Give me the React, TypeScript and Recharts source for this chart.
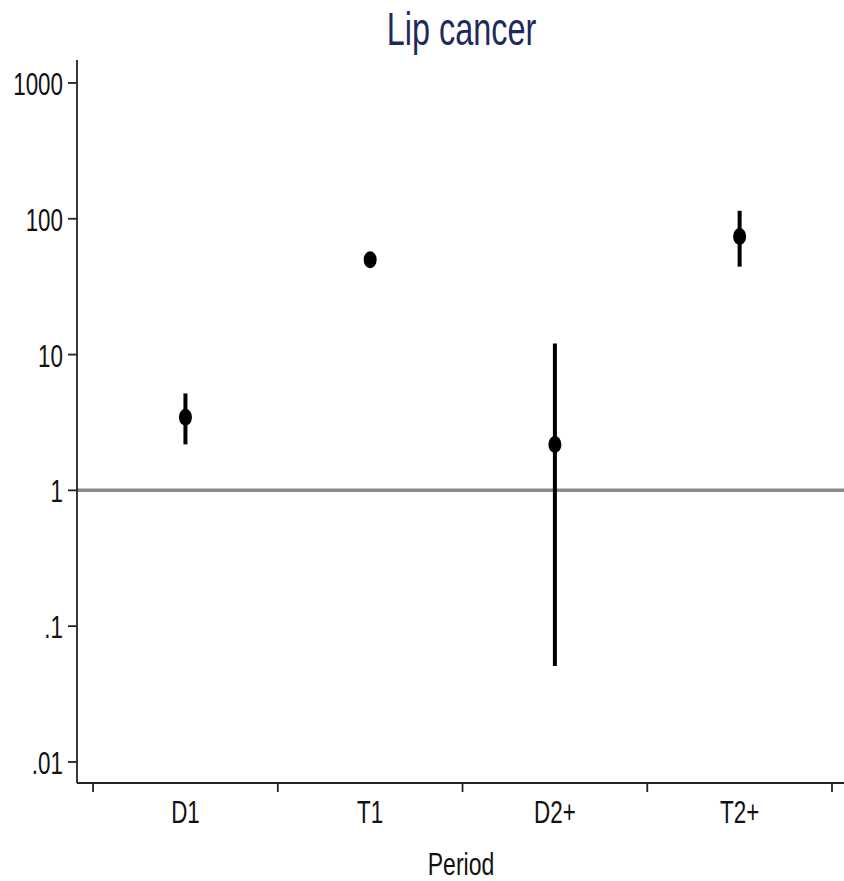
import React from "react";
import {
  ComposedChart,
  Scatter,
  ErrorBar,
  XAxis,
  YAxis,
  ReferenceLine,
  Customized,
} from "recharts";

const periods = ["D1", "T1", "D2+", "T2+"];
const estimates = [3.45, 50, 2.18, 74];
const lowerCI = [2.18, 47, 0.051, 44.4];
const upperCI = [5.17, 54, 12.05, 114.5];
const yTicks = [0.01, 0.1, 1, 10, 100, 1000];
const xTicks = [0.5, 1, 1.5, 2, 2.5, 3, 3.5, 4, 4.5];

const FONT = "'Liberation Sans', Arial, sans-serif";
const SQUEEZE = 0.7;

const rows = periods.map((p, i) => ({
  x: i + 1,
  period: p,
  est: estimates[i],
  err: [estimates[i] - lowerCI[i], upperCI[i] - estimates[i]],
}));

function fmtY(v: number): string {
  if (v < 1) return String(v).replace(/^0/, "");
  return String(v);
}

function YTick({ x, y, payload }: any) {
  return (
    <g>
      <line x1={x - 9} x2={x} y1={y} y2={y} stroke="#222" strokeWidth={1.8} />
      <text
        transform={`translate(${x - 14},${y + 12}) scale(${SQUEEZE},1)`}
        textAnchor="end"
        fontSize={32}
        fontFamily={FONT}
        fill="#111"
      >
        {fmtY(payload.value)}
      </text>
    </g>
  );
}

function XTick({ x, y, payload }: any) {
  const v: number = payload.value;
  if (!Number.isInteger(v)) {
    return <line x1={x} x2={x} y1={y} y2={y + 9} stroke="#222" strokeWidth={1.8} />;
  }
  return (
    <text
      transform={`translate(${x},${y + 40}) scale(${SQUEEZE},1)`}
      textAnchor="middle"
      fontSize={32}
      fontFamily={FONT}
      fill="#111"
    >
      {periods[v - 1]}
    </text>
  );
}

const Dot = (p: any) => (
  <ellipse cx={p.cx} cy={p.cy} rx={6.5} ry={8.5} fill="#000" />
);

function Titles() {
  return (
    <g>
      <text
        transform={`translate(461.5,45) scale(0.69,1)`}
        textAnchor="middle"
        fontSize={47}
        fontFamily={FONT}
        fill="#1e2a5c"
      >
        Lip cancer
      </text>
      <text
        transform={`translate(461,875) scale(0.72,1)`}
        textAnchor="middle"
        fontSize={32}
        fontFamily={FONT}
        fill="#111"
      >
        Period
      </text>
    </g>
  );
}

export default function App() {
  return (
    <div style={{ position: "absolute", left: 0, top: 0, background: "#fff" }}>
      <ComposedChart
        width={844}
        height={881}
        data={rows}
        margin={{ top: 60, right: 0, bottom: 0, left: 0 }}
      >
        <XAxis
          type="number"
          dataKey="x"
          domain={[0.413, 4.565]}
          ticks={xTicks}
          interval={0}
          allowDataOverflow
          height={98}
          tickSize={0}
          tickMargin={0}
          tickLine={false}
          axisLine={{ stroke: "#222", strokeWidth: 1.8 }}
          tick={<XTick />}
        />
        <YAxis
          type="number"
          scale="log"
          domain={[0.007, 1476]}
          ticks={yTicks}
          interval={0}
          allowDataOverflow
          width={77}
          tickSize={0}
          tickMargin={0}
          tickLine={false}
          axisLine={{ stroke: "#222", strokeWidth: 1.8 }}
          tick={<YTick />}
        />
        <ReferenceLine y={1} stroke="#8a8a8a" strokeWidth={3.5} />
        <Scatter dataKey="est" shape={Dot} isAnimationActive={false}>
          <ErrorBar
            dataKey="err"
            direction="y"
            width={0}
            strokeWidth={4}
            stroke="#000"
            isAnimationActive={false}
          />
        </Scatter>
        <Customized component={Titles} />
      </ComposedChart>
    </div>
  );
}
